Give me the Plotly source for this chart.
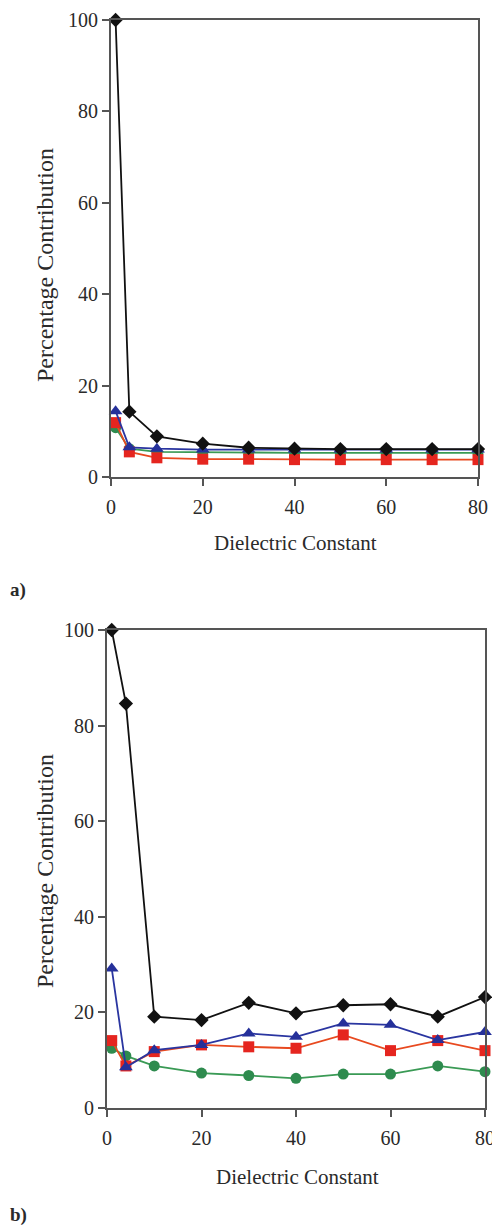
import plotly.graph_objects as go

# ---- data ----
dielectric = [1, 4, 10, 20, 30, 40, 50, 60, 70, 80]

a_black = [100, 14.3, 8.9, 7.3, 6.4, 6.2, 6.1, 6.1, 6.1, 6.1]
a_blue = [14.4, 6.5, 6.2, 6.0, 6.0, 6.0, 6.0, 6.0, 6.0, 6.0]
a_red = [11.9, 5.5, 4.2, 3.9, 3.9, 3.8, 3.8, 3.8, 3.8, 3.8]
a_green = [10.8, 6.2, 5.5, 5.4, 5.3, 5.3, 5.3, 5.3, 5.3, 5.3]

b_black = [100, 84.6, 19.1, 18.4, 22.0, 19.8, 21.5, 21.7, 19.1, 23.2]
b_blue = [29.2, 8.5, 12.1, 13.2, 15.6, 14.9, 17.7, 17.4, 14.2, 15.9]
b_red = [14.1, 8.8, 11.8, 13.2, 12.8, 12.5, 15.3, 12.0, 14.1, 12.0]
b_green = [12.5, 10.9, 8.8, 7.3, 6.8, 6.2, 7.1, 7.1, 8.8, 7.6]

x_ticks = [0, 20, 40, 60, 80]
y_ticks = [0, 20, 40, 60, 80, 100]
x_title = "Dielectric Constant"
y_title = "Percentage Contribution"
panel_labels = ["a)", "b)"]

# ---- styles ----
W, H = 492, 1225
FONT = "Liberation Serif"
TXT = "#2a2a2a"
series_style = [
    # (name, colour, line colour, symbol, size)
    ("green", "#2e8b4e", "#3a9a55", "circle", 11),
    ("red", "#e5251f", "#e8491f", "square", 11),
    ("blue", "#25309a", "#2a35a0", "triangle-up", 12),
    ("black", "#111111", "#111111", "diamond", 11),
]

fig = go.Figure()

panels = [
    (dict(green=a_green, red=a_red, blue=a_blue, black=a_black), "x", "y"),
    (dict(green=b_green, red=b_red, blue=b_blue, black=b_black), "x2", "y2"),
]
for data, xa, ya in panels:
    for name, mc, lc, sym, sz in series_style:
        fig.add_trace(go.Scatter(
            x=dielectric, y=data[name], xaxis=xa, yaxis=ya,
            mode="lines+markers",
            line=dict(color=lc, width=1.8),
            marker=dict(symbol=sym, size=sz, color=mc, line=dict(width=0)),
            showlegend=False, cliponaxis=False,
        ))

def px_x(v):
    return v / W

def px_y(v):
    return 1 - v / H

axis_common = dict(
    showline=True, mirror=True, linecolor="#555555", linewidth=2,
    ticks="outside", ticklen=7, tickwidth=1.5, tickcolor="#555555",
    showgrid=False, zeroline=False, automargin=False,
    ticklabeloverflow="allow",
    tickfont=dict(family=FONT, size=20, color=TXT),
)

fig.update_layout(
    width=W, height=H,
    margin=dict(l=0, r=0, t=0, b=0, autoexpand=False),
    paper_bgcolor="white", plot_bgcolor="white",
    xaxis=dict(domain=[px_x(111), px_x(478)], range=[0, 80], tickvals=x_ticks,
               anchor="y", ticklabelstandoff=4, **axis_common),
    yaxis=dict(domain=[px_y(477), px_y(20)], range=[0, 100], tickvals=y_ticks,
               anchor="x", **axis_common),
    xaxis2=dict(domain=[px_x(107), px_x(485)], range=[0, 80], tickvals=x_ticks,
                anchor="y2", ticklabelstandoff=4, **axis_common),
    yaxis2=dict(domain=[px_y(1108), px_y(630)], range=[0, 100], tickvals=y_ticks,
                anchor="x2", **axis_common),
)

ann = []
# x titles
for xc, yc in [(295, 543), (297, 1177)]:
    ann.append(dict(x=px_x(xc), y=px_y(yc), xref="paper", yref="paper",
                    text=x_title, showarrow=False,
                    font=dict(family=FONT, size=21, color=TXT),
                    xanchor="center", yanchor="middle"))
# y titles
for xc, yc in [(45, 265), (45, 871)]:
    ann.append(dict(x=px_x(xc), y=px_y(yc), xref="paper", yref="paper",
                    text=y_title, showarrow=False, textangle=-90,
                    font=dict(family=FONT, size=24, color=TXT),
                    xanchor="center", yanchor="middle"))
# panel labels
for lab, yc in zip(panel_labels, [590, 1215]):
    ann.append(dict(x=px_x(8), y=px_y(yc), xref="paper", yref="paper",
                    text="<b>" + lab + "</b>", showarrow=False,
                    font=dict(family=FONT, size=19, color=TXT),
                    xanchor="left", yanchor="middle"))
fig.update_layout(annotations=ann)

fig.write_html(
    "out.html",
    config={"displayModeBar": False},
    post_script="document.body.style.margin='0';document.body.style.overflow='hidden';",
)
